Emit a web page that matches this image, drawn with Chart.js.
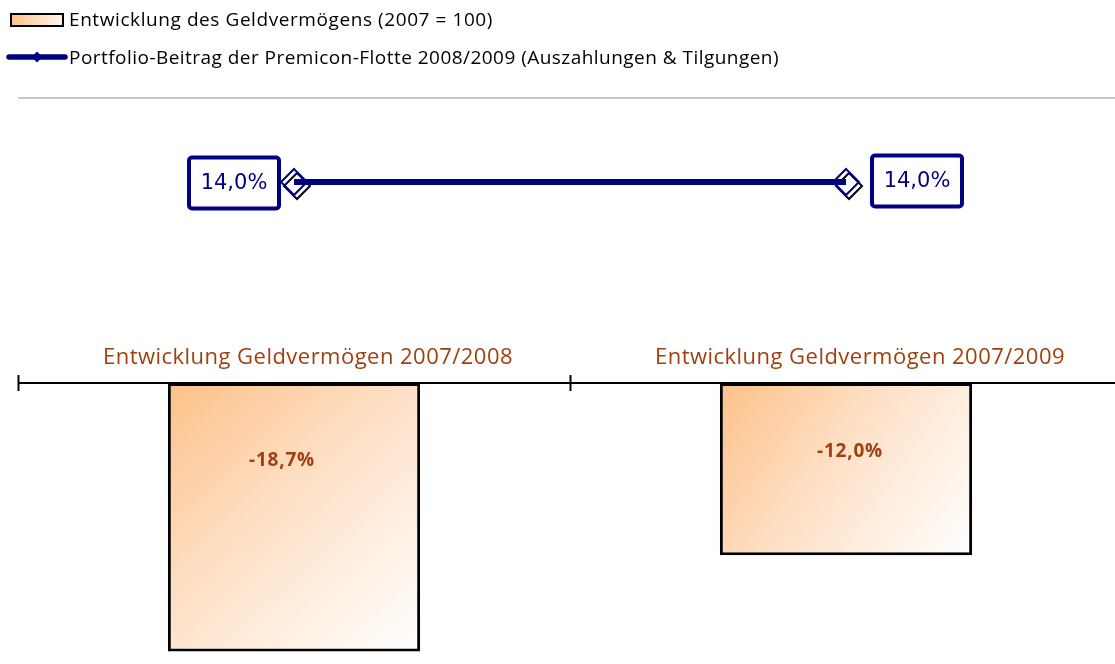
<!DOCTYPE html>
<html>
<head>
<meta charset="utf-8">
<script src="https://cdn.jsdelivr.net/npm/chart.js@4/dist/chart.umd.min.js"></script>
<style>
html,body{margin:0;padding:0;overflow:hidden;background:#fff;width:1115px;height:664px;}
#wrap{position:absolute;left:0;top:0;width:1122px;height:664px;}
#legend{position:absolute;left:0;top:0;width:1115px;height:100px;z-index:2;font-family:'Open Sans',sans-serif;font-size:19px;color:#000;}
.txt{position:absolute;left:69px;white-space:nowrap;line-height:24px;height:24px;}
#sym1{position:absolute;left:10px;top:13px;width:50px;height:10px;border:2px solid #000;background:linear-gradient(90deg,#FDC38A,#FFF4EA);}
#sym2{position:absolute;left:5px;top:50px;}
#sep{position:absolute;left:18px;top:97px;width:1097px;height:0;border-top:2px solid #C8C8C8;}
canvas{position:absolute;left:0;top:0;}
</style>
</head>
<body>
<div id="legend">
  <div id="sym1"></div>
  <div class="txt" id="t1" style="top:7px">Entwicklung des Geldvermögens (2007 = 100)</div>
  <svg id="sym2" width="64" height="14" viewBox="0 0 64 14"><line x1="4" y1="7" x2="60" y2="7" stroke="#000080" stroke-width="5.5" stroke-linecap="round"/><polygon points="32,1.5 37.5,7 32,12.5 26.5,7" fill="#000080"/></svg>
  <div class="txt" id="t2" style="top:45px">Portfolio-Beitrag der Premicon-Flotte 2008/2009 (Auszahlungen &amp; Tilgungen)</div>
  <div id="sep"></div>
</div>
<div id="wrap"><canvas id="c" width="1122" height="664" style="width:1122px;height:664px"></canvas></div>
<script>
const categories = ['Entwicklung Geldvermögen 2007/2008', 'Entwicklung Geldvermögen 2007/2009'];
const wealthChange = [-18.7, -12.0];
const portfolioContribution = [14.0, 14.0];
const seriesNames = ['Entwicklung des Geldvermögens (2007 = 100)', 'Portfolio-Beitrag der Premicon-Flotte 2008/2009 (Auszahlungen & Tilgungen)'];
const yMin = -19.5, yMax = 19.5;

const fmt = v => v.toFixed(1).replace('.', ',') + '%';
const BROWN = '#A0400F', NAVY = '#000080';
const SANS = '"Open Sans", sans-serif';

// fit HTML legend text widths via letter-spacing
function fitHtml(id, target) {
  const el = document.getElementById(id);
  const n = el.textContent.length;
  const w = el.getBoundingClientRect().width;
  el.style.letterSpacing = ((target - w) / n) + 'px';
}
fitHtml('t1', 424);
fitHtml('t2', 710);

function fitCanvas(ctx, text, target) {
  ctx.letterSpacing = '0px';
  const w = ctx.measureText(text).width;
  ctx.letterSpacing = ((target - w) / text.length) + 'px';
}

function diamond(ctx, x, y, r) {
  ctx.beginPath();
  ctx.moveTo(x, y - r);
  ctx.lineTo(x + r, y);
  ctx.lineTo(x, y + r);
  ctx.lineTo(x - r, y);
  ctx.closePath();
}

const overlay = {
  id: 'overlay',
  beforeDatasetsDraw(chart) {
    const ctx = chart.ctx;
    chart.getDatasetMeta(1).data.forEach(el => {
      const left = el.x - el.width / 2, right = el.x + el.width / 2;
      const top = Math.min(el.y, el.base), bottom = Math.max(el.y, el.base);
      const g = ctx.createLinearGradient(left, top, right, bottom);
      g.addColorStop(0, '#FDC189');
      g.addColorStop(0.5, '#FEE3CC');
      g.addColorStop(1, '#FFFFFF');
      el.options.backgroundColor = g;
    });
    // diamond markers (drawn under the line)
    ctx.save();
    chart.getDatasetMeta(0).data.forEach(p => {
      ctx.lineWidth = 2;
      ctx.strokeStyle = '#000';
      diamond(ctx, p.x + 3, p.y + 4, 13);
      ctx.stroke();
      ctx.strokeStyle = NAVY;
      diamond(ctx, p.x, p.y, 13);
      ctx.stroke();
    });
    ctx.restore();
  },
  afterDatasetsDraw(chart) {
    const ctx = chart.ctx;
    const xs = chart.scales.x, ys = chart.scales.y;
    const area = chart.chartArea;
    const y0 = ys.getPixelForValue(0);
    const step = xs.getPixelForValue(1) - xs.getPixelForValue(0);
    ctx.save();
    // axis line
    ctx.strokeStyle = '#000';
    ctx.lineWidth = 2;
    ctx.beginPath();
    ctx.moveTo(area.left, y0);
    ctx.lineTo(area.right, y0);
    ctx.stroke();
    // tick marks at category boundaries
    for (let k = 0; k <= categories.length; k++) {
      const bx = Math.round(xs.getPixelForValue(0) - step / 2 + k * step) + 0.5;
      ctx.beginPath();
      ctx.moveTo(bx, y0 - 8);
      ctx.lineTo(bx, y0 + 8);
      ctx.stroke();
    }
    // category labels above axis
    ctx.fillStyle = BROWN;
    ctx.font = '22px ' + SANS;
    ctx.textAlign = 'center';
    ctx.textBaseline = 'middle';
    categories.forEach((c, i) => {
      fitCanvas(ctx, c, 410);
      ctx.fillText(c, xs.getPixelForValue(i) + 14, y0 - 25);
    });
    // bar value labels
    ctx.font = 'bold 19px ' + SANS;
    const barOff = [78, 69], barDx = [-12, 4];
    chart.getDatasetMeta(1).data.forEach((el, i) => {
      const t = fmt(wealthChange[i]);
      fitCanvas(ctx, t, 66);
      ctx.fillText(t, el.x + barDx[i], Math.min(el.y, el.base) + barOff[i]);
    });
    // line labels in boxes
    ctx.letterSpacing = '0px';
    ctx.font = '21px "DejaVu Sans", sans-serif';
    const pts = chart.getDatasetMeta(0).data;
    pts.forEach((p, i) => {
      const w = 90, h = 51;
      const left = i === 0 ? p.x - 15 - w : p.x + 26;
      const top = p.y - h / 2 + (i === 0 ? 1 : -1);
      ctx.lineWidth = 4;
      ctx.strokeStyle = NAVY;
      ctx.fillStyle = '#fff';
      ctx.beginPath();
      if (ctx.roundRect) ctx.roundRect(left, top, w, h, 3); else ctx.rect(left, top, w, h);
      ctx.fill();
      ctx.stroke();
      ctx.fillStyle = NAVY;
      ctx.fillText(fmt(portfolioContribution[i]), left + w / 2, top + h / 2 + 1);
    });
    ctx.restore();
  }
};

new Chart(document.getElementById('c'), {
  data: {
    labels: categories,
    datasets: [
      {
        type: 'line',
        label: seriesNames[1],
        data: portfolioContribution,
        order: 0,
        borderColor: NAVY,
        borderWidth: 6,
        pointRadius: 0,
        pointHoverRadius: 0,
        fill: false
      },
      {
        type: 'bar',
        label: seriesNames[0],
        data: wealthChange,
        order: 1,
        borderColor: '#000',
        borderWidth: 3,
        borderSkipped: false,
        backgroundColor: () => '#FDC189',
        categoryPercentage: 1,
        barPercentage: 0.457
      }
    ]
  },
  options: {
    responsive: false,
    animation: false,
    layout: { padding: { left: 18, top: 103, right: 0, bottom: 1 } },
    plugins: { legend: { display: false }, tooltip: { enabled: false } },
    scales: {
      x: { display: false, offset: true },
      y: { display: false, min: yMin, max: yMax }
    }
  },
  plugins: [overlay]
});
</script>
</body>
</html>
